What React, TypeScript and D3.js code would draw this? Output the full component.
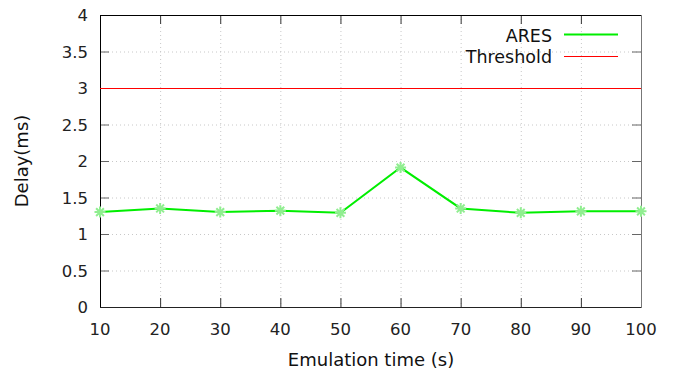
import { useMemo } from "react";
import * as d3 from "d3";

const times = [10, 20, 30, 40, 50, 60, 70, 80, 90, 100];
const aresDelay = [1.3, 1.35, 1.3, 1.32, 1.29, 1.91, 1.35, 1.29, 1.31, 1.31];
const threshold = 3;
const yTicks = [0, 0.5, 1, 1.5, 2, 2.5, 3, 3.5, 4];
const seriesNames = ["ARES", "Threshold"];

const FONT = "'DejaVu Sans', Verdana, sans-serif";

function starPath(size: number) {
  const r = size / 2;
  const d = r * Math.SQRT1_2;
  return `M${-r},0L${r},0M0,${-r}L0,${r}M${-d},${-d}L${d},${d}M${-d},${d}L${d},${-d}`;
}

export default function App() {
  const layout = useMemo(() => {
    const width = 675;
    const height = 373;
    const margin = { top: 15, right: 34, bottom: 66, left: 100 };
    const x = d3.scaleLinear().domain([10, 100]).range([margin.left, width - margin.right]);
    const y = d3.scaleLinear().domain([0, 4]).range([height - margin.bottom, margin.top]);
    return { width, height, margin, x, y };
  }, []);
  const { width, height, margin, x, y } = layout;
  const left = margin.left;
  const right = width - margin.right;
  const top = margin.top;
  const bottom = height - margin.bottom;
  const tick = 9;

  const points = times.map((t, i) => ({ t, v: aresDelay[i] }));
  const line = d3.line<{ t: number; v: number }>().x((p) => x(p.t)).y((p) => y(p.v));

  return (
    <svg width={width} height={height} style={{ position: "absolute", left: 0, top: 0, background: "white" }} fontFamily={FONT}>
      <rect width={width} height={height} fill="white" />
      {/* grid */}
      {yTicks.slice(1, -1).map((v) => (
        <line key={`gy${v}`} x1={left} x2={right} y1={y(v) + 0.5} y2={y(v) + 0.5} stroke="#c8c8c8" strokeDasharray="1,3" />
      ))}
      {times.slice(1, -1).map((t) => (
        <line key={`gx${t}`} x1={x(t) + 0.5} x2={x(t) + 0.5} y1={top} y2={bottom} stroke="#c8c8c8" strokeDasharray="1,3" />
      ))}
      {/* ticks */}
      {yTicks.map((v) => (
        <g key={`ty${v}`}>
          <line x1={left} x2={left + tick} y1={y(v) + 0.5} y2={y(v) + 0.5} stroke="#666" />
          <line x1={right - tick} x2={right} y1={y(v) + 0.5} y2={y(v) + 0.5} stroke="#666" />
          <text x={left - 12} y={y(v) + 6} textAnchor="end" fontSize={16.5} fill="#222">{v}</text>
        </g>
      ))}
      {times.map((t) => (
        <g key={`tx${t}`}>
          <line x1={x(t) + 0.5} x2={x(t) + 0.5} y1={bottom} y2={bottom - tick} stroke="#333" />
          <line x1={x(t) + 0.5} x2={x(t) + 0.5} y1={top} y2={top + tick} stroke="#333" />
          <text x={x(t)} y={335} textAnchor="middle" fontSize={16.5} fill="#222">{t}</text>
        </g>
      ))}
      {/* border */}
      <line x1={left + 0.5} x2={left + 0.5} y1={top} y2={bottom} stroke="#000" />
      <line x1={left} x2={right} y1={top + 0.5} y2={top + 0.5} stroke="#000" />
      <line x1={left} x2={right} y1={bottom + 0.5} y2={bottom + 0.5} stroke="#222" />
      <line x1={right + 0.5} x2={right + 0.5} y1={top} y2={bottom + 1} stroke="#777" />
      {/* threshold */}
      <line x1={left} x2={right} y1={y(threshold) + 0.5} y2={y(threshold) + 0.5} stroke="#ff0000" />
      {/* ARES */}
      <path d={line(points) ?? ""} fill="none" stroke="#00ee00" strokeWidth={2} />
      {points.map((p) => (
        <path key={p.t} d={starPath(11)} transform={`translate(${x(p.t)},${y(p.v)})`} stroke="#90ee90" strokeWidth={2} fill="none" />
      ))}
      {/* legend */}
      <text x={552} y={41.5} textAnchor="end" fontSize={17.5} fill="#111">{seriesNames[0]}</text>
      <line x1={564} x2={618} y1={34.5} y2={34.5} stroke="#00ee00" strokeWidth={2} />
      <text x={552} y={63} textAnchor="end" fontSize={17.5} fill="#111">{seriesNames[1]}</text>
      <line x1={564} x2={618} y1={56.5} y2={56.5} stroke="#ff0000" />
      {/* axis titles */}
      <text x={371} y={366} textAnchor="middle" fontSize={18} fill="#111">Emulation time (s)</text>
      <text transform={`translate(28,${(top + bottom) / 2}) rotate(-90)`} textAnchor="middle" fontSize={18} fill="#111">Delay(ms)</text>
    </svg>
  );
}
